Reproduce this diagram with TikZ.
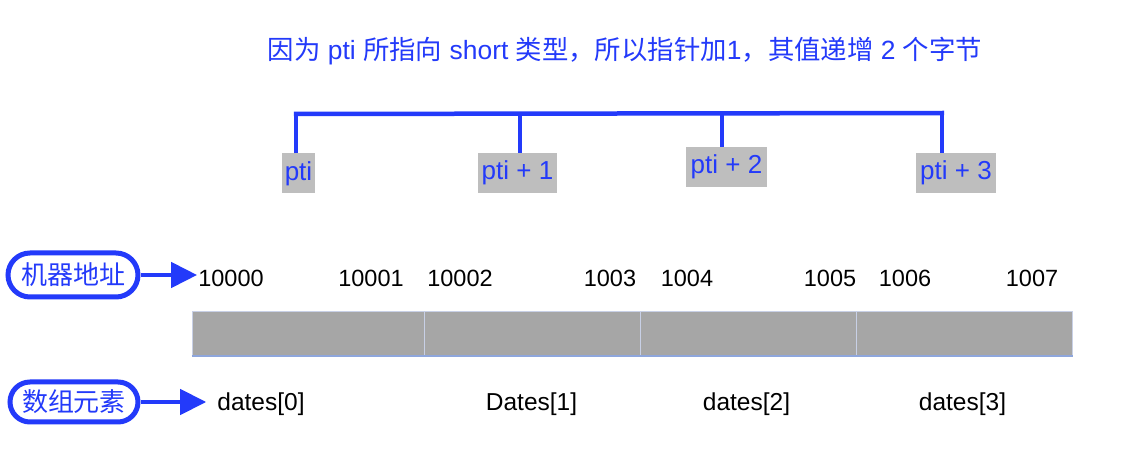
\documentclass[tikz,border=0pt]{standalone}
\usepackage{fontspec}
\setmainfont{Liberation Sans}
\newfontfamily\cjk{Noto Sans CJK SC}
\usetikzlibrary{arrows.meta}
\definecolor{myblue}{RGB}{35,58,250}
\definecolor{boxgray}{RGB}{190,190,190}
\definecolor{cellgray}{RGB}{166,166,166}
\definecolor{celledge}{RGB}{200,208,230}
\definecolor{cellbottom}{RGB}{142,166,220}
\begin{document}
\begin{tikzpicture}[x=1pt,y=-1pt,
  ptibox/.style={fill=boxgray,text=myblue,inner sep=0pt,minimum height=40pt,font=\fontsize{26}{28}\selectfont},
  addr/.style={text=black,inner sep=1pt,font=\fontsize{23.5}{25}\selectfont},
  elem/.style={text=black,inner sep=3pt,font=\fontsize{24.5}{26}\selectfont},
  cell/.style={fill=cellgray,draw=celledge,line width=1pt,minimum width=216pt,minimum height=44pt,inner sep=0pt},
  pill/.style={draw=myblue,line width=5pt,rounded corners=22pt,text=myblue,inner sep=0pt,font=\cjk\fontsize{26}{28}\selectfont},
  bracket/.style={draw=myblue,line width=4.5pt},
  arr/.style={draw=myblue,line width=4.5pt,-{Triangle[length=26pt,width=25pt]}}
]
\useasboundingbox (0,0) rectangle (1136,454);
\fill[white] (0,0) rectangle (1136,454);

% title
\node[text=myblue,font=\fontsize{26.4}{28}\selectfont,inner sep=0pt] (title) at (625,51)
 {{\cjk 因为} pti {\cjk 所指向} short {\cjk 类型，所以指针加}1{\cjk ，其值递增} 2 {\cjk 个字节}};

% pointer boxes
\node[ptibox,minimum width=33pt] (p0) at (298.5,173.5) {\raisebox{-4pt}{pti}};
\node[ptibox,minimum width=79pt] (p1) at (517.5,173) {\raisebox{-4pt}{pti + 1}};
\node[ptibox,minimum width=81pt] (p2) at (726.5,167) {\raisebox{-1pt}{pti + 2}};
\node[ptibox,minimum width=80pt] (p3) at (956,173) {\raisebox{-3pt}{pti + 3}};

\coordinate (bl) at (293.8,114);
\coordinate (br) at (944.2,113);
\coordinate (x0) at (296,0);
\coordinate (x1) at (520,0);
\coordinate (x2) at (722,0);
\coordinate (x3) at (942,0);
\draw[bracket] (bl) -- (br);
\draw[bracket] (p0.north -| x0) -- (bl -| x0);
\draw[bracket] (p1.north -| x1) -- (bl -| x1);
\draw[bracket] (p2.north -| x2) -- (bl -| x2);
\draw[bracket] (p3.north -| x3) -- (br -| x3);

% memory cells
\node[cell,minimum width=232pt] (c0) at (308,334) {};
\node[cell] (c1) at (532,334) {};
\node[cell] (c2) at (748,334) {};
\node[cell] (c3) at (964,334) {};
\draw[cellbottom,line width=2pt] (c0.south west) -- (c3.south east);

% addresses
\node[addr] (a0) at (231,278) {10000};
\node[addr] (a1) at (371,278) {10001};
\node[addr] (a2) at (460,278) {10002};
\node[addr] (a3) at (610,278) {1003};
\node[addr] (a4) at (687,278) {1004};
\node[addr] (a5) at (830,278) {1005};
\node[addr] (a6) at (905,278) {1006};
\node[addr] (a7) at (1032,278) {1007};

% elements
\node[elem] (e0) at (261,404) {dates[0]};
\node[elem] (e1) at (531.5,404) {Dates[1]};
\node[elem] (e2) at (746.5,404) {dates[2]};
\node[elem] (e3) at (962.5,404) {dates[3]};

% pills
\node[pill,minimum width=130pt,minimum height=44pt] (m1) at (73,275) {机器地址};
\node[pill,rounded corners=20pt,minimum width=128pt,minimum height=40pt] (m2) at (74,402) {数组元素};

\draw[arr] (m1.east) -- (a0.west |- m1.east);
\draw[arr,shorten >=8pt] (m2.east) -- (e0.west |- m2.east);
\end{tikzpicture}
\end{document}
